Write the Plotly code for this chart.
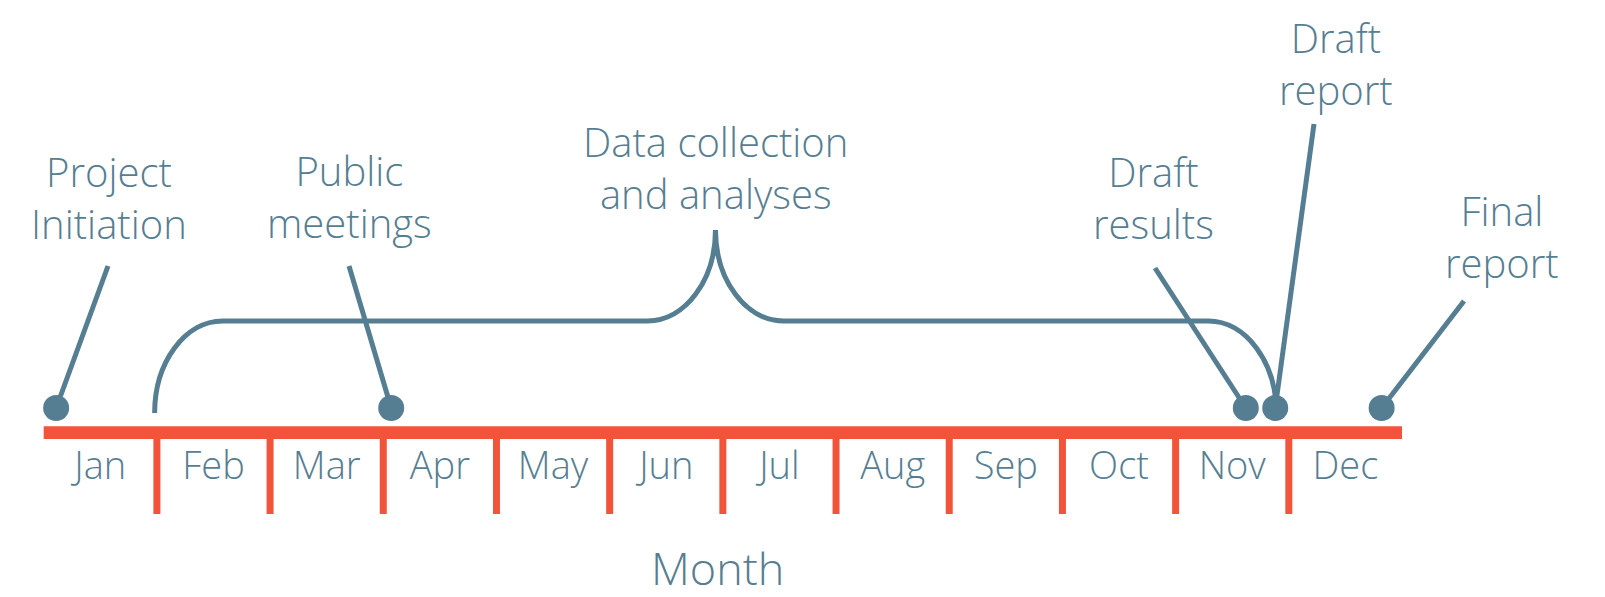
import plotly.graph_objects as go

# ---------------- data ----------------
months = ["Jan", "Feb", "Mar", "Apr", "May", "Jun",
          "Jul", "Aug", "Sep", "Oct", "Nov", "Dec"]
event_names = ["Project<br>Initiation", "Public<br>meetings", "Draft<br>results",
               "Draft<br>report", "Final<br>report"]
event_month = [0.11, 3.07, 10.62, 10.88, 11.82]   # months since Jan 1
phase_name = "Data collection<br>and analyses"
phase_start = 0.98
phase_end = 10.89
axis_title = "Month"

# ---------------- layout helpers ----------------
W, H = 1605, 597
X0_PX, X12_PX = 35.7, 1394.0            # pixel position of month 0 and month 12
PPM = (X12_PX - X0_PX) / 12.0           # pixels per month
x_range = [(0 - X0_PX) / PPM, (W - X0_PX) / PPM]


def xm(px):
    return (px - X0_PX) / PPM


def yv(py):
    return H - py


BLUE = "#567e92"
RED = "#f2543a"
FONT = "Open Sans"
WEIGHT = 300
LABEL_SIZE = 40

# label placement (pixel positions: text-block centre / top, leader-line top)
label_pos = [
    dict(tx=101, ty=189, anchor="middle", lx=100, ly=258),
    dict(tx=341, ty=188, anchor="middle", lx=341, ly=258),
    dict(tx=1145, ty=189, anchor="middle", lx=1147, ly=260),
    dict(tx=1328, ty=0.5, anchor="top", lx=1306, ly=116),
    dict(tx=1494, ty=228, anchor="middle", lx=1456, ly=293),
]
phase_label_pos = dict(tx=715, ty=159)
DOT_Y = yv(400)

fig = go.Figure()

# leader lines
for m, lp in zip(event_month, label_pos):
    fig.add_trace(go.Scatter(
        x=[m, xm(lp["lx"])], y=[DOT_Y, yv(lp["ly"])], mode="lines",
        line=dict(color=BLUE, width=5), hoverinfo="skip", showlegend=False))

# brace for the data-collection phase
k = 0.5523
rx = 68 / PPM
yb, yh, yp = yv(405), yv(313), yv(222)
ry1, ry2 = yh - yb, yp - yh
xa, xb = phase_start, phase_end
xc = (xa + xb) / 2
path = (
    f"M {xa},{yb} "
    f"C {xa},{yb + k * ry1} {xa + rx - k * rx},{yh} {xa + rx},{yh} "
    f"L {xc - rx},{yh} "
    f"C {xc - rx + k * rx},{yh} {xc},{yp - k * ry2} {xc},{yp} "
    f"C {xc},{yp - k * ry2} {xc + rx - k * rx},{yh} {xc + rx},{yh} "
    f"L {xb - rx},{yh} "
    f"C {xb - rx + k * rx},{yh} {xb},{yb + k * ry1} {xb},{yb}"
)
fig.add_shape(type="path", path=path, xref="x", yref="y",
              line=dict(color=BLUE, width=5), layer="above")

# timeline bar
fig.add_shape(type="rect", xref="x", yref="y", x0=0, x1=len(months),
              y0=yv(431), y1=yv(418.3), fillcolor=RED, line_width=0, layer="below")
for b in range(1, len(months)):
    fig.add_shape(type="line", xref="x", yref="y", x0=b, x1=b,
                  y0=yv(506), y1=yv(425), line=dict(color=RED, width=7), layer="below")

# event dots
fig.add_trace(go.Scatter(
    x=event_month, y=[DOT_Y] * len(event_month), mode="markers",
    marker=dict(color=BLUE, size=26, line_width=0),
    hoverinfo="skip", showlegend=False))

# event / phase labels
label_font = dict(family=FONT, size=LABEL_SIZE, color=BLUE, weight=WEIGHT)
for name, lp in zip(event_names, label_pos):
    fig.add_annotation(x=xm(lp["tx"]), y=yv(lp["ty"]), text=name, showarrow=False,
                       xref="x", yref="y", align="center", yanchor=lp["anchor"],
                       borderpad=0, font=label_font)
fig.add_annotation(x=xc, y=yv(phase_label_pos["ty"]), text=phase_name,
                   showarrow=False, xref="x", yref="y", align="center",
                   font=label_font)

# axis title
fig.add_annotation(x=xm(709.5), y=yv(592), text=axis_title, showarrow=False,
                   xref="x", yref="y", yanchor="bottom",
                   font=dict(family=FONT, size=45, color=BLUE, weight=WEIGHT))

fig.update_layout(
    width=W, height=H,
    margin=dict(l=0, r=0, t=0, b=0),
    paper_bgcolor="white", plot_bgcolor="white",
    showlegend=False,
    xaxis=dict(range=x_range, showgrid=False, zeroline=False, showline=False,
               tickvals=[i + 0.5 for i in range(len(months))], ticktext=months,
               ticks="", anchor="free", position=yv(432) / H,
               tickfont=dict(family=FONT, size=38, color=BLUE, weight=WEIGHT),
               fixedrange=True),
    yaxis=dict(range=[0, H], visible=False, fixedrange=True),
)

fig.write_html("out.html")
